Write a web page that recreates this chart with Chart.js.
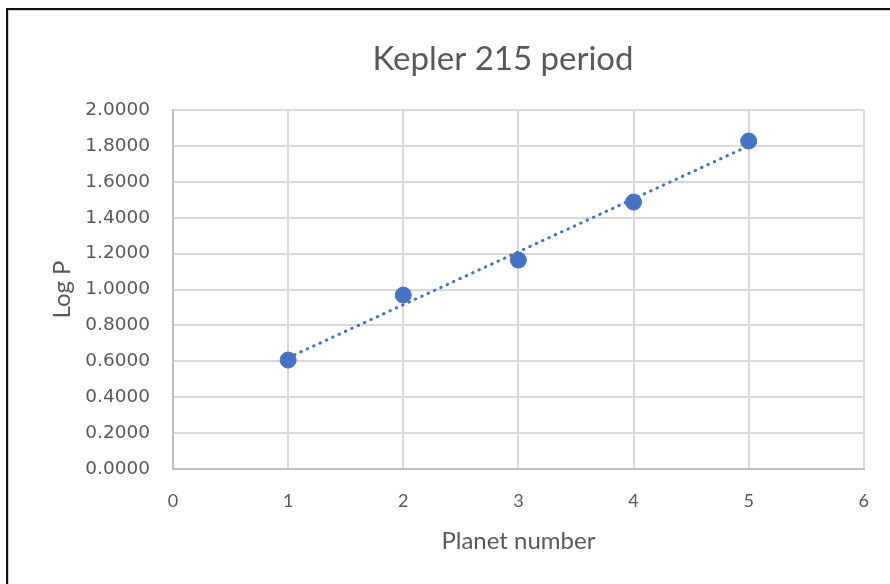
<!DOCTYPE html>
<html lang="en">
<head>
  <meta charset="UTF-8">
  <title>Kepler 215 period</title>
  <script src="https://cdn.jsdelivr.net/npm/chart.js"></script>
  <style>
    html, body { margin: 0; padding: 0; background: #fff; }
    .wrap { position: relative; width: 890px; height: 584px; overflow: hidden; }
    .frame {
      position: absolute; left: 6px; top: 8px; width: 900px; height: 600px;
      border-top: 2px solid #111; border-left: 2px solid #111;
      box-shadow: inset 1px 1px 0 #d0d0d0;
    }
    #chart { position: absolute; left: 0; top: 0; }
  </style>
</head>
<body>
  <div class="wrap">
    <div class="frame"></div>
    <canvas id="chart" width="890" height="584"></canvas>
  </div>

  <script>
    // planet number vs log of period
    const planetNumbers = [1, 2, 3, 4, 5];
    const logPeriods = [0.607, 0.969, 1.164, 1.487, 1.827];
    // linear trendline (ends)
    const trendX = [1, 5];
    const trendY = [0.62, 1.80];

    const blue = '#4472C4';
    const textGrey = '#595959';

    const pts = planetNumbers.map((x, i) => ({ x: x, y: logPeriods[i] }));
    const trend = trendX.map((x, i) => ({ x: x, y: trendY[i] }));

    // the excel chart area is wider than the crop, so its title sits right of centre
    const shiftTitle = {
      id: 'shiftTitle',
      afterLayout(chart) {
        const t = chart.titleBlock;
        if (t) { t.left = 116; t.right = 890; }
      }
    };

    new Chart(document.getElementById('chart'), {
      type: 'scatter',
      data: {
        datasets: [{
          label: 'Log P',
          data: pts,
          backgroundColor: blue,
          borderColor: blue,
          pointRadius: 8,
          pointHoverRadius: 8,
          order: 0
        }, {
          type: 'line',
          label: 'Linear trend',
          data: trend,
          borderColor: blue,
          borderWidth: 3,
          borderDash: [0.5, 6.5],
          borderCapStyle: 'round',
          pointRadius: 0,
          fill: false,
          order: 1
        }]
      },
      options: {
        responsive: false,
        animation: false,
        layout: { padding: { left: 0, right: 25, top: 0, bottom: 0 } },
        plugins: {
          legend: { display: false },
          tooltip: { enabled: false },
          title: {
            display: true,
            text: 'Kepler 215 period',
            color: textGrey,
            font: { family: 'Lato', size: 33, weight: 'normal' },
            padding: { top: 40, bottom: 30.4 }
          }
        },
        scales: {
          x: {
            type: 'linear',
            min: 0,
            max: 6,
            afterFit: (s) => { s.height = 115; },
            ticks: {
              stepSize: 1,
              color: textGrey,
              padding: 21,
              font: { family: 'Lato', size: 18 }
            },
            grid: { color: '#d9d9d9', lineWidth: 2, drawTicks: false },
            border: { color: '#bfbfbf', width: 2 },
            title: {
              display: true,
              text: 'Planet number',
              color: textGrey,
              font: { family: 'Lato', size: 24 },
              padding: { top: 0, bottom: 28.6 }
            }
          },
          y: {
            min: 0,
            max: 2,
            afterFit: (s) => { s.width = 173; },
            ticks: {
              stepSize: 0.2,
              color: textGrey,
              padding: 23,
              font: { family: 'DejaVu Sans', size: 18.5 },
              callback: (v) => v.toFixed(4)
            },
            grid: { color: '#d9d9d9', lineWidth: 2, drawTicks: false },
            border: { color: '#bfbfbf', width: 2 },
            title: {
              display: true,
              text: 'Log P',
              color: textGrey,
              font: { family: 'Lato', size: 24 },
              padding: { top: 47.6, bottom: 0 }
            }
          }
        }
      },
      plugins: [shiftTitle]
    });
  </script>
</body>
</html>
